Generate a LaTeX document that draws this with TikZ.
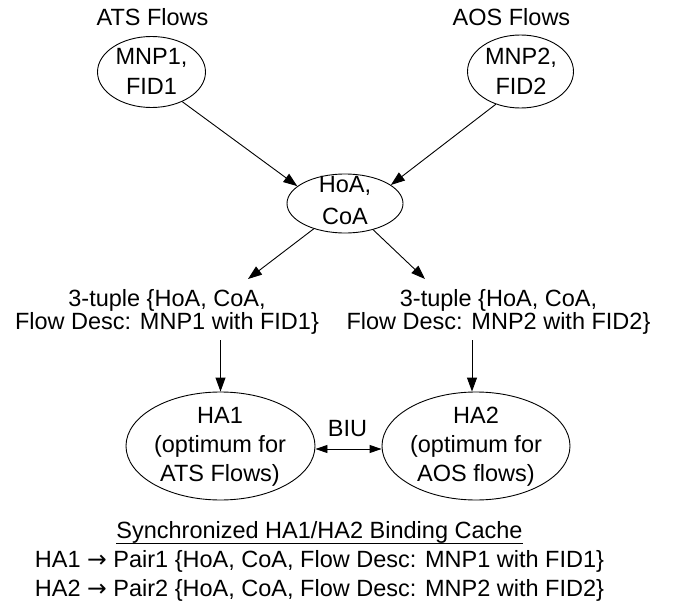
\documentclass[tikz,border=0pt]{standalone}
\usepackage{fontspec}
\setmainfont{Liberation Sans}
\newfontfamily\arrowfont{DejaVu Sans}
\usetikzlibrary{shapes.geometric,arrows.meta}
\newcommand\myul[1]{\leavevmode\setbox0=\hbox{#1}\rlap{\rule[-5.5pt]{\wd0}{0.9pt}}\box0}
\newcommand\rarr{{\arrowfont →}}
\begin{document}
\begin{tikzpicture}[x=1pt,y=-1pt,
  ell/.style={draw, ellipse, inner sep=0pt, line width=0.9pt},
  txt/.style={inner sep=0pt, align=center},
  fa/.style={font=\fontsize{23.5}{29}\selectfont},
  fb/.style={font=\fontsize{23.5}{30}\selectfont},
  fc/.style={font=\fontsize{23.5}{32}\selectfont},
  fd/.style={font=\fontsize{23.5}{23}\selectfont},
  arr/.style={-{Triangle[length=14pt,width=10pt]}, line width=0.9pt},
  darr/.style={{Triangle[length=12pt,width=8pt]}-{Triangle[length=12pt,width=8pt]}, line width=0.9pt}]
\useasboundingbox (0,0) rectangle (673,605);

% titles
\node[txt,fa,anchor=base] (ats) at (152.5,25) {ATS Flows};
\node[txt,fa,anchor=base] (aos) at (511.5,25) {AOS Flows};

% top ellipses
\node[ell, minimum width=108pt, minimum height=71pt] (mnp1) at (151.5,72) {};
\node[txt,fb] (mnp1t) at (151.5,71) {MNP1,\\FID1};
\node[ell, minimum width=106pt, minimum height=73pt] (mnp2) at (520.5,71.5) {};
\node[txt,fb] (mnp2t) at (521,71) {MNP2,\\FID2};

% HoA CoA
\node[ell, minimum width=116pt, minimum height=59pt] (hoa) at (345,203.5) {};
\node[txt,fc] (hoat) at (345,201) {HoA,\\CoA};

\draw[arr] (mnp1.-44.5) -- (hoa.160.7);
\draw[arr] (mnp2.-127) -- (hoa.22);

% tuples
\node[txt,fd] (t1) at (167,312) {3-tuple \{HoA, CoA,\\Flow Desc: MNP1 with FID1\}};
\node[txt,fd] (t2) at (498.5,312) {3-tuple \{HoA, CoA,\\Flow Desc: MNP2 with FID2\}};

\coordinate (c1) at (248,279);
\coordinate (c2) at (425,279);
\draw[arr] (hoa.-141) -- (c1);
\draw[arr] (hoa.-43.4) -- (c2);

% HA ellipses
\node[ell, minimum width=189pt, minimum height=108pt] (ha1) at (220.5,446) {};
\node[txt,fa] (ha1t) at (220,447) {HA1\\(optimum for\\ATS Flows)};
\node[ell, minimum width=188pt, minimum height=108pt] (ha2) at (476,446) {};
\node[txt,fa] (ha2t) at (476,447) {HA2\\(optimum for\\AOS flows)};

\coordinate (a1) at (220.5,340);
\coordinate (a2) at (472,340);
\draw[arr] (a1) -- (ha1);
\draw[arr] (a2) -- (a2 |- ha2.north);

\draw[darr] ([yshift=-3pt]ha1.east) -- ([yshift=-3pt]ha2.west);
\node[txt,fa,anchor=base] (biu) at (347.5,436) {BIU};

% binding cache
\node[txt,fa] (cache) at (319.5,561.5) {\myul{Synchronized HA1/HA2 Binding Cache}\\HA1 \rarr{} Pair1 \{HoA, CoA, Flow Desc: MNP1 with FID1\}\\HA2 \rarr{} Pair2 \{HoA, CoA, Flow Desc: MNP2 with FID2\}};
\end{tikzpicture}
\end{document}
